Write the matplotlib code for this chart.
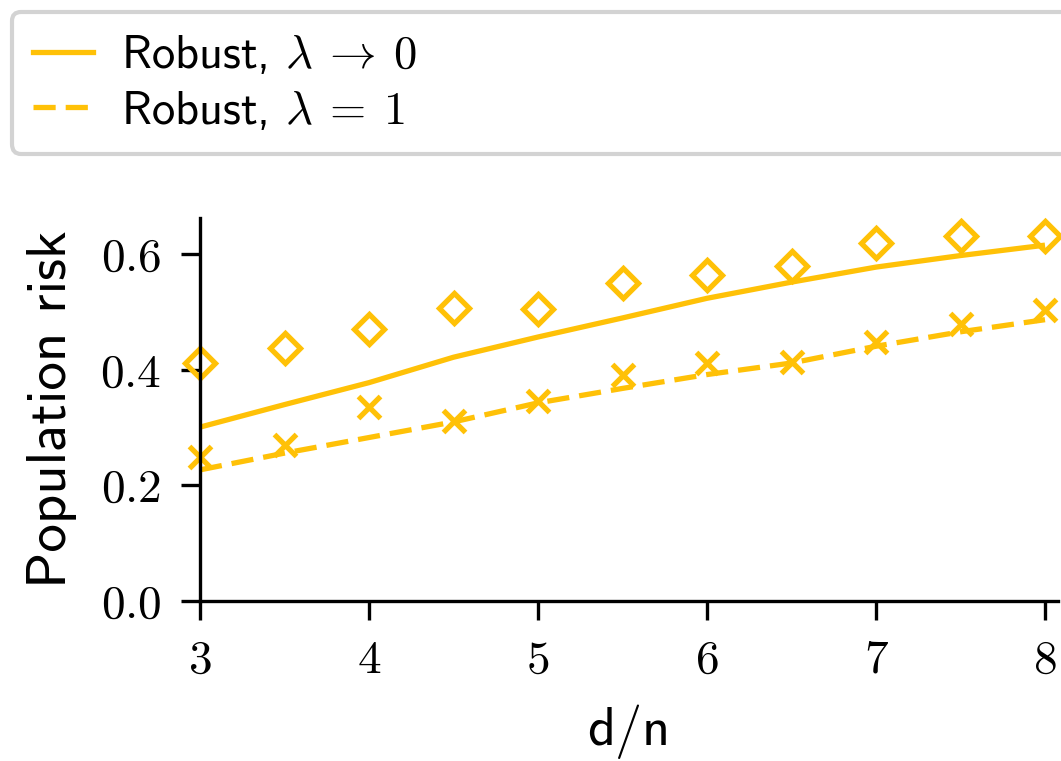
import matplotlib
matplotlib.use("Agg")
import matplotlib.pyplot as plt
from matplotlib.lines import Line2D

plt.rcParams['font.family'] = ['cmss10', 'DejaVu Sans']
plt.rcParams['mathtext.fontset'] = 'cm'
plt.rcParams['axes.unicode_minus'] = False

# ---- data ----
x_ratio = [3.0, 3.5, 4.0, 4.5, 5.0, 5.5, 6.0, 6.5, 7.0, 7.5, 8.0]
theory_lam0 = [0.301, 0.340, 0.378, 0.422, 0.457, 0.490, 0.524, 0.552, 0.578, 0.598, 0.616]
theory_lam1 = [0.227, 0.256, 0.283, 0.310, 0.343, 0.368, 0.392, 0.412, 0.441, 0.466, 0.487]
sim_lam0 = [0.412, 0.438, 0.470, 0.507, 0.505, 0.551, 0.564, 0.580, 0.619, 0.632, 0.631]
sim_lam1 = [0.249, 0.270, 0.336, 0.311, 0.347, 0.392, 0.412, 0.413, 0.448, 0.479, 0.503]

xticks = [3, 4, 5, 6, 7, 8]
xtick_labels = ['$3$', '$4$', '$5$', '$6$', '$7$', '$8$']
yticks = [0.0, 0.2, 0.4, 0.6]
ytick_labels = ['$0.0$', '$0.2$', '$0.4$', '$0.6$']
legend_labels = [r'Robust, $\lambda\:\to\:0$', r'Robust, $\lambda\:=\:1$']

color = '#FFC107'

W, H = 1061, 761
fig = plt.figure(figsize=(W / 100, H / 100), dpi=100)
ax = fig.add_axes([200 / W, (H - 601) / H, (1058 - 200) / W, (601 - 218) / H])

lw = 3.8
dash = (0, (4.2, 1.9))
ax.plot(x_ratio, theory_lam0, color=color, lw=lw, solid_capstyle='butt')
ax.plot(x_ratio, theory_lam1, color=color, lw=lw, linestyle=dash)
ax.plot(x_ratio, sim_lam0, linestyle='none', marker='D', ms=15.5, mfc='none',
        mec=color, mew=3.8, clip_on=False)
ax.plot(x_ratio, sim_lam1, linestyle='none', marker='x', ms=15.5,
        mec=color, mew=3.8, clip_on=False)

ax.set_xlim(3, 3 + (1058 - 200) / 169.0)
ax.set_ylim(0, 0.663)
ax.set_xticks(xticks)
ax.set_xticklabels(xtick_labels)
ax.set_yticks(yticks)
ax.set_yticklabels(ytick_labels)

for s in ['top', 'right']:
    ax.spines[s].set_visible(False)
for s in ['left', 'bottom']:
    ax.spines[s].set_linewidth(2.4)
ax.tick_params(axis='both', direction='out', length=14, width=2.4,
               labelsize=34, pad=14)

ax.set_xlabel('d/n', fontsize=39, labelpad=16)
ax.set_ylabel('Population risk', fontsize=41, labelpad=17)

handles = [Line2D([], [], color=color, lw=lw),
           Line2D([], [], color=color, lw=lw, linestyle=dash)]
leg = fig.legend(handles, legend_labels, loc='upper left',
                 bbox_to_anchor=(12 / W, 0.5, 1.3, 1 - 12 / H - 0.5),
                 mode='expand', borderaxespad=0, fontsize=33.5,
                 handlelength=1.3, handletextpad=0.6, labelspacing=0.25,
                 borderpad=0.45, fancybox=True, framealpha=1)
leg.get_frame().set_edgecolor('#d3d3d3')
leg.get_frame().set_linewidth(3.0)

fig.savefig('out.png', dpi=100)
